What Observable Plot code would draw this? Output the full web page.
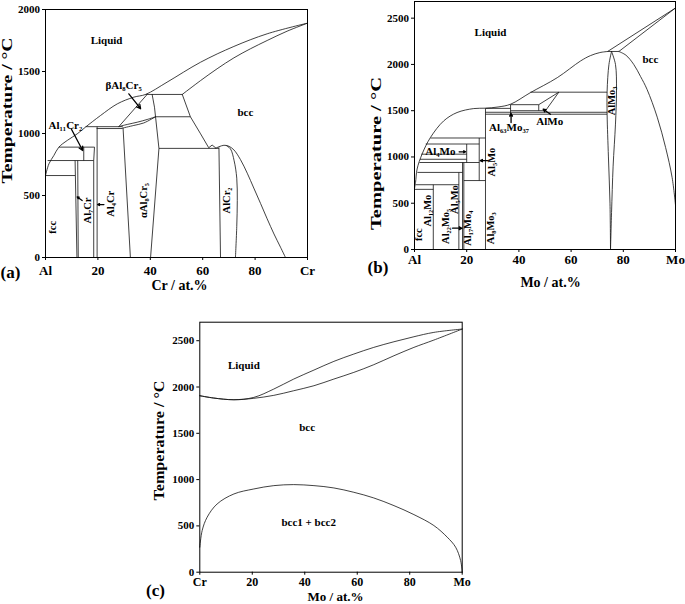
<!DOCTYPE html>
<html><head><meta charset="utf-8">
<script src="https://cdn.jsdelivr.net/npm/d3@7"></script>
<script src="https://cdn.jsdelivr.net/npm/@observablehq/plot@0.6"></script>
<style>
body{margin:0;background:#fff;}
#wrap{position:relative;width:685px;height:604px;background:#fff;overflow:hidden;}
.panel{position:absolute;}
</style></head><body><div id="wrap"></div>
<script>
// ---------- Panel (a): Al–Cr ----------
const aLiquidus = [[0,661],[1.3,755],[3.2,823],[5.1,890],[8.3,944],[12.1,997],[15.3,1052],[21,1145],[27.4,1239],[33.7,1293],[38.2,1315],[46.4,1414],[59.2,1575],[71.9,1702],[84.6,1804],[100,1890]];
const aSolidusBcc = [[52.2,1315],[59.2,1427],[65.5,1522],[71.9,1610],[78.2,1683],[84.6,1750],[92.2,1825],[100,1890]];
const aAlCr2Dome = [[65,882],[66.2,893],[68.1,905],[70,897],[71.9,868],[74.4,790],[77,680],[79.5,560],[82.1,435],[84.6,312],[87.2,190],[89.7,83],[91.6,0]];
const aAlCr2Right = [[69,903],[70.6,876],[72,780],[73,640],[73.2,460],[73,250],[72.5,0]];
const aBetaLowerA = [[28,1056],[31.2,1073],[35,1091],[38.8,1113],[42,1135]];
const aBetaLowerB = [[29.3,1043],[33.7,1065],[37.5,1085],[42,1135]];
const aBccBoundary = [[52.2,1315],[55.3,1135],[59.2,997],[62.3,885],[63.6,907],[64.9,885]];
const aAlphaRight = [[40.7,1315],[41.6,1212],[42,1135],[43.3,880],[40.1,0]];
const aSegments = [
  [38.2,1315,52.2,1315],[42,1135,55.3,1135],[43.3,880,66.2,880],
  [15.3,1055,29.5,1055],[19.5,1040,29.3,1040],[5.1,890,18.7,890],
  [0.8,782,18.4,782],[0,661,11.3,661],
  [28,1056,38.8,1315],[29.6,1045,32.4,0],[19.7,1055,19.7,0],
  [18.4,782,18.4,0],[18.7,890,18.4,782],[14.6,890,14.6,782],
  [11.3,782,12.0,0],[12.3,782,12.5,0],[66.2,888,66.8,0]
];
const aArrows = [[31.8,1320,36.3,1200],[9.8,1038,14.2,863],[14,460,12.1,488],[22.3,427,19.9,427]];
const aLabels = [["Liquid",23.3,1750,0],["bcc",76.3,1172,0],["βAl₈Cr₅",29.8,1390,0],["Al₁₁Cr₂",7.6,1068,0],
  ["fcc",2.6,244,-90],["Al₇Cr",16.1,379,-90],["Al₄Cr",24.8,433,-90],["αAl₈Cr₅",37.5,460,-90],["AlCr₂",69.3,460,-90]];
const aYTicks = [0,500,1000,1500,2000];

// ---------- Panel (b): Al–Mo ----------
const bLiquidus = [[0,660],[0.4,725],[1,870],[2.9,1031],[6.1,1210],[11.2,1390],[16.3,1480],[22.7,1523],[27.2,1527],[32,1540],[36.8,1570],[44.4,1695],[54.7,1857],[63.6,2037],[67.4,2095],[71,2128],[74,2140]];
const bAlMo3Left = [[75.5,2140],[74.5,2000],[73.8,1710],[73.8,1460],[74.3,1000],[74.9,500],[75.1,0]];
const bAlMo3Right = [[75.5,2140],[77,2000],[77.4,1713],[77,1355],[76.1,900],[75.5,400],[75.1,0]];
const bBccSolvus = [[78.3,2140],[81,2100],[84,2000],[86.6,1870],[89.1,1730],[93,1430],[96.2,1103],[98.7,779],[100,480]];
const bSegments = [
  [74,2140,78.3,2140],[74,2140,100,2610],[78.3,2140,100,2610],
  [44.4,1700,73.8,1700],[36.8,1565,47.6,1565],[27.2,1525,36.8,1525],[36.8,1500,50.2,1500],
  [27.2,1483,73.8,1483],[27.2,1462,73.8,1462],
  [6.1,1205,27.2,1205],[4.3,1140,24.8,1140],[2.6,1030,20,1030],[2.1,975,20,975],[1.9,940,24.8,940],
  [1.1,833,18.4,833],[18.9,745,27.2,745],[0.4,700,17,700],[0,650,7.2,650],
  [27.2,1525,27.2,0],[36.8,1565,36.8,1462],[47.6,1565,47.6,1500],[47.6,1565,55.3,1700],[50.2,1500,55.3,1700],
  [24.8,1205,24.8,745],[20,1140,20,940],[18.9,940,18.9,0],[18.4,940,18.4,0],[17,833,17,0],[7.2,700,7.2,0]
];
const bArrows = [[37,1372,37,1470],[52.1,1462,49.3,1516],[17.1,1056,19.6,1056],[28,960,25.2,960],[14.6,230,18.2,230]];
const bLabels = [["Liquid",29.1,2342,0],["bcc",90.4,2055,0],["AlMo₃",75.4,1606,-90],["AlMo",51.8,1385,0],
  ["Al₆₃Mo₃₇",36.2,1318,0],["Al₄Mo",9.9,1057,0],["Al₅Mo",29.5,945,-90],["fcc",1.5,160,-90],
  ["Al₁₂Mo",5,420,-90],["Al₂₂Mo₅",12,250,-90],["Al₅Mo",15.2,540,-90],["Al₁₇Mo₄",20.3,230,-90],["Al₈Mo₃",29.2,230,-90]];
const bYTicks = [0,500,1000,1500,2000,2500];

// ---------- Panel (c): Cr–Mo ----------
const cLiquidus = [[0,1906],[5.3,1881],[13,1863],[20.6,1888],[28.2,1978],[35.8,2086],[43.5,2183],[51.1,2277],[58.7,2356],[66.3,2428],[74,2489],[81.6,2543],[89.2,2590],[100,2626]];
const cSolidus = [[0,1906],[5.3,1881],[13,1862],[20.6,1878],[28.2,1910],[35.8,1960],[43.5,2014],[51.1,2086],[58.7,2158],[66.3,2241],[74,2338],[81.6,2428],[89.2,2507],[100,2626]];
const cMiscibility = [[0,270],[0.9,450],[2.8,594],[6.6,737],[13,845],[20.6,899],[28.2,935],[35.8,946],[43.5,935],[51.1,910],[58.7,863],[66.3,802],[74,719],[81.6,622],[89.2,504],[94.3,378],[97.5,270],[99.4,126],[100,0]];
const cLabels = [["Liquid",16.8,2230,0],["bcc",40.9,1564,0],["bcc1 + bcc2",41.5,539,0]];
const cYTicks = [0,500,1000,1500,2000,2500];

const xTicks = [0,20,40,60,80,100];
const FONT = '"Liberation Serif","Times New Roman",serif';
const INK = "#111";

function rows(list){ return list.flatMap((c,i)=>c.map(([x,y])=>({x,y,id:i}))); }

function panel(cfg){
  const T = {fontWeight:"bold", fontFamily:FONT, fill:"black", textAnchor:"middle", lineAnchor:"middle"};
  const svg = Plot.plot({
    width: cfg.width, height: cfg.height,
    marginLeft: cfg.m[0], marginRight: cfg.m[1], marginTop: cfg.m[2], marginBottom: cfg.m[3],
    x: {domain:[0,100]}, y: {domain: cfg.yDomain},
    style: {fontFamily: FONT, fontWeight: "bold", background: "white", overflow: "visible"},
    marks: [
      Plot.line(rows(cfg.curves), {x:"x", y:"y", z:"id", curve:"catmull-rom", stroke:INK, strokeWidth:0.8}),
      Plot.line(rows(cfg.polys), {x:"x", y:"y", z:"id", stroke:INK, strokeWidth:0.8}),
      Plot.link(cfg.segs, {x1:d=>d[0], y1:d=>d[1], x2:d=>d[2], y2:d=>d[3], stroke:INK, strokeWidth:0.8}),
      Plot.arrow(cfg.arrows, {x1:d=>d[0], y1:d=>d[1], x2:d=>d[2], y2:d=>d[3], stroke:"black", strokeWidth:1.3, headLength:5, headAngle:55}),
      Plot.text(cfg.labels.filter(d=>d[3]===0), {x:d=>d[1], y:d=>d[2], text:d=>d[0], fontSize:11, ...T}),
      Plot.text(cfg.labels.filter(d=>d[3]!==0), {x:d=>d[1], y:d=>d[2], text:d=>d[0], rotate:-90, fontSize:10.5, ...T}),
      Plot.frame({stroke:"black", strokeWidth:1}),
      Plot.axisX({ticks:xTicks, tickFormat: d => d===0 ? cfg.ends[0] : d===100 ? cfg.ends[1] : String(d), tickSize:3, tickPadding:cfg.xPad, fontSize:cfg.xFs, fontWeight:"bold", fontFamily:FONT, label:null}),
      Plot.axisY({ticks:cfg.yTicks, tickFormat: d=>String(d), tickSize:3, tickPadding:2.5, fontSize:11, fontWeight:"bold", fontFamily:FONT, label:null}),
      Plot.text([cfg.xLabel], {frameAnchor:"bottom", dx:cfg.xl[0], dy:cfg.xl[1], fontSize:cfg.xlFs, ...T}),
      Plot.text(["Temperature / °C"], {frameAnchor:"left", rotate:-90, dx:cfg.yl[0], dy:cfg.yl[1], fontSize:14, ...T}),
      Plot.text([cfg.tag], {frameAnchor:"bottom-left", dx:cfg.tg[0], dy:cfg.tg[1], fontSize:17, ...T})
    ]
  });
  svg.querySelectorAll("text").forEach(t => {
    if (t.textContent === "Temperature / °C") {
      t.setAttribute("textLength", cfg.yLen);
      t.setAttribute("lengthAdjust", "spacingAndGlyphs");
    }
  });
  const div = document.createElement("div");
  div.className = "panel";
  div.style.left = cfg.pos[0] + "px"; div.style.top = cfg.pos[1] + "px";
  div.style.width = cfg.width + "px"; div.style.height = cfg.height + "px";
  div.appendChild(svg);
  document.getElementById("wrap").appendChild(div);
}

panel({
  pos:[0,0], width:330, height:290, m:[45,23,9,33], yDomain:[0,2000], yTicks:aYTicks,
  curves:[aLiquidus,aSolidusBcc,aAlCr2Dome,aAlCr2Right,aBetaLowerA,aBetaLowerB],
  polys:[aBccBoundary,aAlphaRight], segs:aSegments, arrows:aArrows, labels:aLabels,
  ends:["Al","Cr"], xPad:5, xFs:13, xLabel:"Cr / at.%", xlFs:14, xl:[3,28], yl:[-37.5,-23], yLen:146, tag:"(a)", tg:[-35,15]
});
panel({
  pos:[340,0], width:345, height:290, m:[74,10,1,41], yDomain:[0,2680], yTicks:bYTicks,
  curves:[bLiquidus,bAlMo3Left,bAlMo3Right,bBccSolvus],
  polys:[], segs:bSegments, arrows:bArrows, labels:bLabels,
  ends:["Al","Mo"], xPad:1.8, xFs:13, xLabel:"Mo / at.%", xlFs:14, xl:[5.5,33], yl:[-38.2,28], yLen:153, tag:"(b)", tg:[-36.5,18.5]
});
panel({
  pos:[140,300], width:400, height:304, m:[59.3,78.3,21.7,32.3], yDomain:[0,2700], yTicks:cYTicks,
  curves:[cLiquidus,cSolidus,cMiscibility],
  polys:[], segs:[], arrows:[], labels:cLabels,
  ends:["Cr","Mo"], xPad:2.5, xFs:12, xLabel:"Mo / at.%", xlFs:13, xl:[4.5,24.5], yl:[-40.3,-6.7], yLen:120, tag:"(c)", tg:[-44.3,18.8]
});
</script></body></html>
